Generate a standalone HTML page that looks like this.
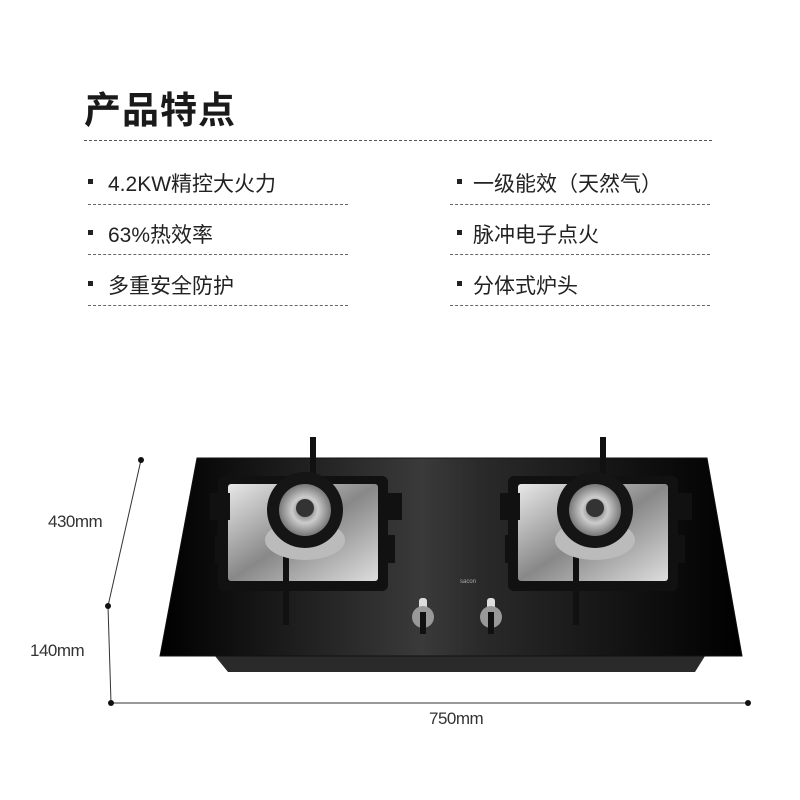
<!DOCTYPE html>
<html><head><meta charset="utf-8"><style>
body{margin:0;width:800px;height:800px;background:#fff;position:relative;overflow:hidden;font-family:"Liberation Sans","Noto Sans CJK SC",sans-serif;color:#222}
.t{position:absolute;left:84px;top:80px;font-size:37px;font-weight:bold;letter-spacing:1px;color:#1a1a1a}
.hl{position:absolute;left:84px;top:140px;width:628px;border-top:1px dashed #555}
.i{position:absolute;font-size:21px;color:#222;white-space:nowrap}
.b{position:absolute;width:5px;height:5px;background:#222}
.d{position:absolute;width:260px;border-top:1px dashed #666}
.lab{position:absolute;font-size:17px;color:#333;letter-spacing:-0.5px}
</style></head><body>
<div class="t">产品特点</div>
<div class="hl"></div>
<div class="b" style="left:88px;top:179px"></div><div class="i" style="left:108px;top:168px">4.2KW精控大火力</div>
<div class="b" style="left:88px;top:230px"></div><div class="i" style="left:108px;top:219px">63%热效率</div>
<div class="b" style="left:88px;top:281px"></div><div class="i" style="left:108px;top:270px">多重安全防护</div>
<div class="b" style="left:457px;top:179px"></div><div class="i" style="left:473px;top:168px">一级能效（天然气）</div>
<div class="b" style="left:457px;top:230px"></div><div class="i" style="left:473px;top:219px">脉冲电子点火</div>
<div class="b" style="left:457px;top:281px"></div><div class="i" style="left:473px;top:270px">分体式炉头</div>
<div class="d" style="left:88px;top:204px"></div><div class="d" style="left:88px;top:254px"></div><div class="d" style="left:88px;top:305px"></div>
<div class="d" style="left:450px;top:204px"></div><div class="d" style="left:450px;top:254px"></div><div class="d" style="left:450px;top:305px"></div>
<svg width="800" height="800" style="position:absolute;left:0;top:0">
<defs>
<linearGradient id="g" x1="0" y1="0" x2="1" y2="0"><stop offset="0" stop-color="#000"/><stop offset=".45" stop-color="#3a3a3a"/><stop offset=".55" stop-color="#2a2a2a"/><stop offset="1" stop-color="#000"/></linearGradient>
<linearGradient id="s" x1="0" y1="0" x2="1" y2="1"><stop offset="0" stop-color="#e8e8e8"/><stop offset=".5" stop-color="#888"/><stop offset="1" stop-color="#ddd"/></linearGradient>
<radialGradient id="bz"><stop offset="0" stop-color="#555"/><stop offset=".5" stop-color="#ccc"/><stop offset="1" stop-color="#777"/></radialGradient>
</defs>
<g stroke="#333" stroke-width="1" fill="none">
<line x1="141" y1="460" x2="108" y2="606"/><line x1="108" y1="606" x2="111" y2="703"/><line x1="111" y1="703" x2="748" y2="703"/>
</g>
<g fill="#111"><circle cx="141" cy="460" r="3"/><circle cx="108" cy="606" r="3"/><circle cx="111" cy="703" r="3"/><circle cx="748" cy="703" r="3"/></g>
<polygon points="215,656 705,656 695,672 228,672" fill="#2a2a2a"/>
<polygon points="197,458 707,458 742,656 160,656" fill="url(#g)" stroke="#111"/>
<g id="L">
<rect x="218" y="476" width="170" height="115" rx="6" fill="#111"/>
<rect x="228" y="484" width="150" height="97" rx="3" fill="url(#s)"/>
<rect x="205" y="492" width="200" height="28" fill="none"/>
<rect x="210" y="493" width="20" height="27" fill="#111"/><rect x="380" y="493" width="22" height="27" fill="#111"/>
<rect x="215" y="535" width="10" height="28" fill="#111"/><rect x="385" y="535" width="10" height="28" fill="#111"/>
<rect x="310" y="437" width="6" height="60" fill="#111"/><rect x="283" y="530" width="6" height="95" fill="#111"/>
<ellipse cx="305" cy="540" rx="40" ry="20" fill="#bbb"/>
<circle cx="305" cy="510" r="38" fill="#151515"/>
<circle cx="305" cy="510" r="26" fill="url(#bz)"/>
<circle cx="305" cy="508" r="9" fill="#333"/>
</g>
<use href="#L" x="290"/>
<text x="460" y="583" font-size="6" fill="#aaa" font-family="Liberation Sans">sacon</text>
<g fill="#ddd"><rect x="419" y="598" width="8" height="20" rx="3"/><rect x="487" y="598" width="8" height="20" rx="3"/></g>
<g fill="#999"><circle cx="423" cy="617" r="11"/><circle cx="491" cy="617" r="11"/></g>
<g fill="#111"><rect x="420" y="612" width="6" height="22"/><rect x="488" y="612" width="6" height="22"/></g>
</svg>
<div class="lab" style="left:48px;top:512px">430mm</div>
<div class="lab" style="left:30px;top:641px">140mm</div>
<div class="lab" style="left:429px;top:709px">750mm</div>
</body></html>
